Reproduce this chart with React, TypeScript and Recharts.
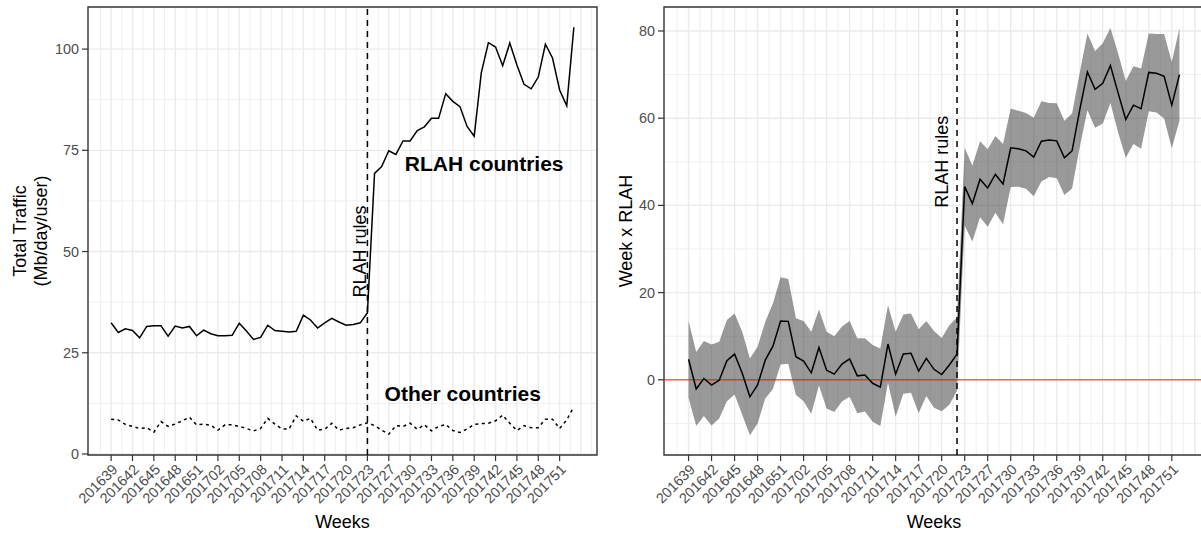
import React from 'react';
import {
  ComposedChart,
  Line,
  Area,
  XAxis,
  YAxis,
  CartesianGrid,
  ReferenceLine,
  ReferenceArea,
  ReferenceDot,
} from 'recharts';

const FONT = '"Liberation Sans", Arial, Helvetica, sans-serif';

// ---- data ----
const tickWeeks = [
  '201639', '201642', '201645', '201648', '201651', '201702', '201705', '201708',
  '201711', '201714', '201717', '201720', '201723', '201727', '201730', '201733',
  '201736', '201739', '201742', '201745', '201748', '201751',
];
const tickIdx = [0, 3, 6, 9, 12, 15, 18, 21, 24, 27, 30, 33, 36, 39, 42, 45, 48, 51, 54, 57, 60, 63];

const rlahTraffic = [
  32.4, 30.0, 30.9, 30.5, 28.7, 31.5, 31.7, 31.7, 29.1, 31.6, 31.1, 31.5, 29.2, 30.6, 29.7, 29.2,
  29.2, 29.3, 32.3, 30.4, 28.3, 28.8, 31.8, 30.5, 30.3, 30.1, 30.3, 34.3, 33.1, 31.1, 32.4, 33.5,
  32.6, 31.8, 32.0, 32.4, 34.9, 69.3, 71.0, 74.9, 74.0, 77.3, 77.3, 79.9, 80.8, 82.9, 82.9, 89.0,
  87.1, 85.8, 80.9, 78.5, 94.2, 101.6, 100.5, 95.9, 101.5, 96.1, 91.3, 90.2, 93.1, 101.2, 97.8,
  89.9, 86.0, 105.4,
];
const otherTraffic = [
  8.6, 8.4, 7.3, 6.8, 6.3, 6.5, 5.4, 8.0, 6.8, 7.4, 8.2, 9.1, 7.2, 7.4, 7.1, 5.9, 7.2, 7.2, 6.8,
  6.3, 5.7, 6.3, 8.8, 7.4, 6.2, 6.2, 9.4, 8.1, 8.8, 5.9, 6.1, 7.6, 5.9, 6.3, 6.5, 7.2, 7.7, 7.0,
  5.9, 4.9, 7.0, 6.8, 7.6, 6.1, 7.2, 5.7, 6.8, 7.3, 5.8, 5.3, 6.2, 7.3, 7.5, 7.6, 8.2, 9.6, 7.6,
  5.8, 7.0, 6.5, 6.5, 8.6, 8.6, 6.3, 8.4, 11.7,
];

const effectEstimate = [
  4.7, -2.1, 0.3, -1.2, -0.1, 4.4, 5.9, 1.5, -3.9, -1.2, 4.5, 7.7, 13.5, 13.4, 5.3, 4.3, 1.6, 7.4,
  2.2, 1.3, 3.6, 4.8, 0.9, 1.1, -0.8, -1.7, 8.2, 1.3, 5.9, 6.1, 2.0, 4.9, 2.4, 1.2, 3.4, 5.9,
  44.3, 40.4, 46.0, 44.0, 47.1, 44.9, 53.2, 53.0, 52.5, 51.1, 54.7, 55.0, 54.8, 50.9, 52.5, 61.9,
  70.6, 66.6, 68.0, 72.1, 65.8, 59.7, 63.0, 62.2, 70.5, 70.3, 69.6, 63.0, 70.0,
];
const effectUpper = [
  13.5, 6.4, 8.9, 8.1, 8.7, 13.7, 15.2, 11.0, 4.9, 7.6, 13.3, 17.5, 23.5, 23.1, 14.1, 13.5, 11.0,
  16.1, 11.0, 10.0, 12.2, 13.5, 9.5, 9.5, 8.0, 7.2, 17.1, 11.0, 15.0, 15.2, 11.6, 13.5, 11.2, 9.6,
  12.5, 14.3, 53.2, 49.1, 54.7, 52.9, 55.9, 54.1, 62.2, 61.7, 61.2, 60.1, 63.9, 63.5, 63.4, 59.4,
  61.1, 70.4, 79.4, 75.4, 77.2, 80.7, 74.9, 68.5, 71.9, 71.4, 79.4, 79.3, 79.3, 72.9, 80.6,
];
const effectLower = [
  -4.1, -10.6, -8.3, -10.5, -8.9, -4.9, -3.4, -8.0, -12.7, -10.0, -4.3, -2.1, 3.5, 3.7, -3.5, -4.9,
  -7.8, -1.3, -6.6, -7.4, -5.0, -3.9, -7.7, -7.3, -9.6, -10.6, -0.7, -8.4, -3.2, -3.0, -7.6, -3.7,
  -6.4, -7.2, -5.7, -2.5, 35.4, 31.7, 37.3, 35.1, 38.3, 35.7, 44.2, 44.3, 43.8, 42.1, 45.5, 46.5,
  46.2, 42.4, 43.9, 53.4, 61.8, 57.8, 58.8, 63.5, 56.7, 50.9, 54.1, 53.0, 61.6, 61.3, 59.9, 53.1,
  59.4,
];

const leftYTicks = [0, 25, 50, 75, 100];
const leftYMinor = [12.5, 37.5, 62.5, 87.5];
const rightYTicks = [0, 20, 40, 60, 80];
const rightYMinor = [-10, 10, 30, 50, 70];

const leftRuleWeek = 36;
const rightRuleWeek = 35;

// ---- derived tables ----
const leftData = rlahTraffic.map((v, i) => ({ idx: i, rlah: v, other: otherTraffic[i] }));
const rightData = effectEstimate.map((v, i) => ({
  idx: i,
  est: v,
  band: [effectLower[i], effectUpper[i]],
}));
const weekByIdx: Record<number, string> = {};
tickIdx.forEach((t, i) => (weekByIdx[t] = tickWeeks[i]));

const vMajor = [...tickIdx, 66];
const vMinor = vMajor.map((t) => t - 1.5).concat([67.5]);

const LEFT_X = [-3.25, 68.25];
const LEFT_Y = [-0.25, 110.4];
const RIGHT_X = [-3.2, 67.2];
const RIGHT_Y = [-17.25, 85.5];

const GRID = '#EBEBEB';
const TICKTXT = '#4D4D4D';

const XTick = (props: any) => {
  const { x, y, payload } = props;
  const label = weekByIdx[payload.value] ?? '';
  return (
    <text
      x={x}
      y={y}
      transform={`rotate(-45, ${x}, ${y})`}
      textAnchor="end"
      dy="0.72em"
      fill={TICKTXT}
      fontSize={14.4}
      fontFamily={FONT}
    >
      {label}
    </text>
  );
};

const rotatedText = (text: string, size: number) => (props: any) => {
  const { cx, cy } = props;
  return (
    <text
      x={cx}
      y={cy}
      transform={`rotate(-90, ${cx}, ${cy})`}
      textAnchor="middle"
      dominantBaseline="central"
      fontSize={size}
      fontFamily={FONT}
      fill="#000"
    >
      {text}
    </text>
  );
};

const boldText = (text: string, size: number) => (props: any) => {
  const { cx, cy } = props;
  return (
    <text
      x={cx}
      y={cy}
      textAnchor="middle"
      dominantBaseline="central"
      fontSize={size}
      fontWeight="bold"
      fontFamily={FONT}
      fill="#000"
    >
      {text}
    </text>
  );
};

const xTitle = (props: any) => {
  const { viewBox } = props;
  return (
    <text
      x={viewBox.x + viewBox.width / 2}
      y={528}
      textAnchor="middle"
      fontSize={18}
      fontFamily={FONT}
      fill="#000"
    >
      Weeks
    </text>
  );
};

const leftYTitle = (props: any) => {
  const { viewBox } = props;
  const cy = viewBox.y + viewBox.height / 2;
  return (
    <g>
      <text x={20} y={cy} transform={`rotate(-90, 20, ${cy})`} textAnchor="middle" dominantBaseline="central" fontSize={18} fontFamily={FONT} fill="#000">
        Total Traffic
      </text>
      <text x={41} y={cy} transform={`rotate(-90, 41, ${cy})`} textAnchor="middle" dominantBaseline="central" fontSize={18} fontFamily={FONT} fill="#000">
        (Mb/day/user)
      </text>
    </g>
  );
};

const rightYTitle = (props: any) => {
  const { viewBox } = props;
  const cy = viewBox.y + viewBox.height / 2;
  const cx = 26;
  return (
    <text x={cx} y={cy} transform={`rotate(-90, ${cx}, ${cy})`} textAnchor="middle" dominantBaseline="central" fontSize={18} fontFamily={FONT} fill="#000">
      Week x RLAH
    </text>
  );
};

export default function App() {
  return (
    <div
      style={{
        position: 'absolute',
        left: 0,
        top: 0,
        width: 1201,
        height: 534,
        overflow: 'hidden',
        background: '#fff',
        fontFamily: FONT,
      }}
    >
      <div style={{ position: 'absolute', left: 0, top: 0 }}>
        <ComposedChart width={600} height={534} data={leftData} margin={{ top: 7, right: 3, bottom: 0, left: 0 }}>
          <CartesianGrid stroke={GRID} strokeWidth={0.8} verticalValues={vMinor} horizontalValues={leftYMinor} />
          <CartesianGrid stroke={GRID} strokeWidth={1.4} verticalValues={vMajor} horizontalValues={leftYTicks} />
          <XAxis
            type="number"
            dataKey="idx"
            domain={LEFT_X}
            allowDataOverflow
            ticks={tickIdx}
            interval={0}
            height={79}
            axisLine={false}
            tickLine={{ stroke: '#333333', strokeWidth: 1.2 }}
            tickSize={6}
            tickMargin={2}
            tick={<XTick />}
            label={{ content: xTitle }}
          />
          <YAxis
            type="number"
            domain={LEFT_Y}
            allowDataOverflow
            ticks={leftYTicks}
            interval={0}
            width={88}
            axisLine={false}
            tickLine={{ stroke: '#333333', strokeWidth: 1.2 }}
            tickSize={6}
            tickMargin={3}
            tick={{ fill: TICKTXT, fontSize: 14.4, fontFamily: FONT }}
            label={{ content: leftYTitle }}
          />
          <Line type="linear" dataKey="other" stroke="#000" strokeWidth={1.5} strokeDasharray="3 3.5" dot={false} isAnimationActive={false} />
          <Line type="linear" dataKey="rlah" stroke="#000" strokeWidth={1.5} dot={false} isAnimationActive={false} />
          <ReferenceLine x={leftRuleWeek} stroke="#000" strokeWidth={1.5} strokeDasharray="6 5" />
          <ReferenceDot x={34.9} y={50} r={0} shape={rotatedText('RLAH rules', 18)} />
          <ReferenceDot x={52.4} y={71.7} r={0} shape={boldText('RLAH countries', 21)} />
          <ReferenceDot x={49.4} y={15} r={0} shape={boldText('Other countries', 21)} />
          <ReferenceArea x1={LEFT_X[0]} x2={LEFT_X[1]} y1={LEFT_Y[0]} y2={LEFT_Y[1]} fill="none" stroke="#333333" strokeWidth={1.4} ifOverflow="visible" />
        </ComposedChart>
      </div>
      <div style={{ position: 'absolute', left: 600, top: 0 }}>
        <ComposedChart width={608} height={534} data={rightData} margin={{ top: 7, right: 4, bottom: 0, left: 0 }}>
          <CartesianGrid stroke={GRID} strokeWidth={0.8} verticalValues={vMinor} horizontalValues={rightYMinor} />
          <CartesianGrid stroke={GRID} strokeWidth={1.4} verticalValues={vMajor} horizontalValues={rightYTicks} />
          <XAxis
            type="number"
            dataKey="idx"
            domain={RIGHT_X}
            allowDataOverflow
            ticks={tickIdx}
            interval={0}
            height={79}
            axisLine={false}
            tickLine={{ stroke: '#333333', strokeWidth: 1.2 }}
            tickSize={6}
            tickMargin={2}
            tick={<XTick />}
            label={{ content: xTitle }}
          />
          <YAxis
            type="number"
            domain={RIGHT_Y}
            allowDataOverflow
            ticks={rightYTicks}
            interval={0}
            width={64}
            axisLine={false}
            tickLine={{ stroke: '#333333', strokeWidth: 1.2 }}
            tickSize={6}
            tickMargin={3}
            tick={{ fill: TICKTXT, fontSize: 14.4, fontFamily: FONT }}
            label={{ content: rightYTitle }}
          />
          <Area type="linear" dataKey="band" stroke="none" fill="#333333" fillOpacity={0.5} isAnimationActive={false} />
          <ReferenceLine y={0} stroke="#FF0000" strokeOpacity={0.6} strokeWidth={1.5} />
          <Line type="linear" dataKey="est" stroke="#000" strokeWidth={1.5} dot={false} isAnimationActive={false} />
          <ReferenceLine x={rightRuleWeek} stroke="#000" strokeWidth={1.5} strokeDasharray="6 5" />
          <ReferenceDot x={33} y={50} r={0} shape={rotatedText('RLAH rules', 18)} />
          <ReferenceArea x1={RIGHT_X[0]} x2={RIGHT_X[1]} y1={RIGHT_Y[0]} y2={RIGHT_Y[1]} fill="none" stroke="#333333" strokeWidth={1.4} ifOverflow="visible" />
        </ComposedChart>
      </div>
    </div>
  );
}
